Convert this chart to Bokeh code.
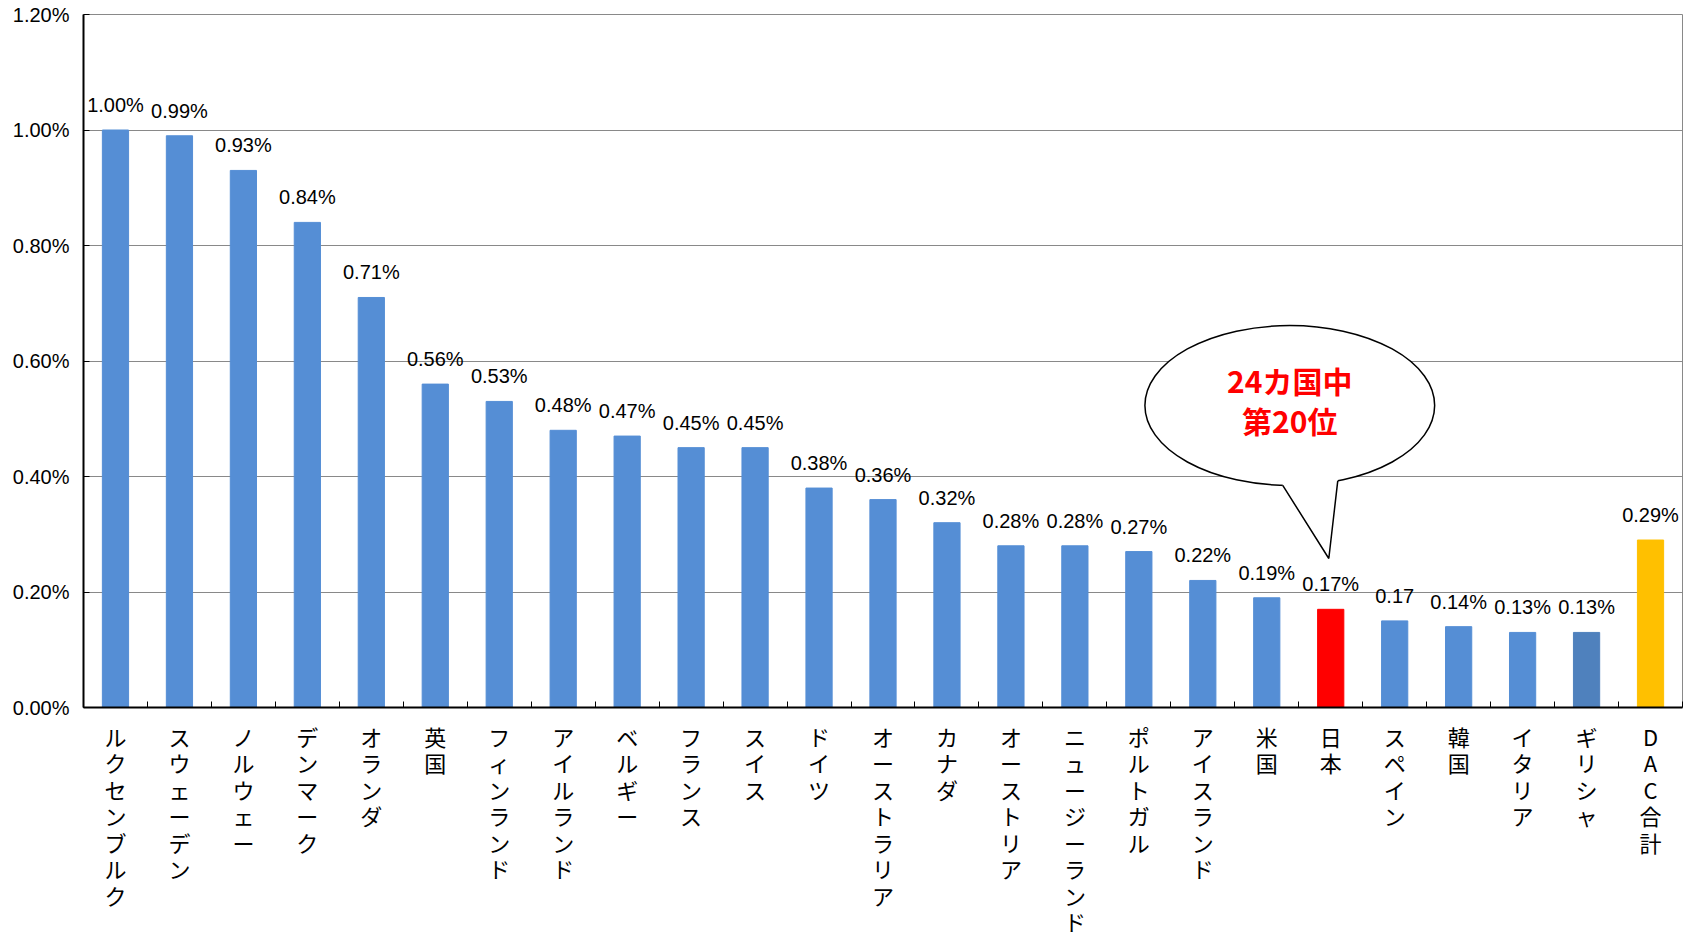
from bokeh.plotting import figure
from bokeh.models import ColumnDataSource, Range1d, FixedTicker, PrintfTickFormatter
from bokeh.core.properties import value
from bokeh.embed import file_html
from bokeh.resources import INLINE

# ---- data ----
countries = ["ルクセンブルク", "スウェーデン", "ノルウェー", "デンマーク", "オランダ", "英国",
             "フィンランド", "アイルランド", "ベルギー", "フランス", "スイス", "ドイツ",
             "オーストラリア", "カナダ", "オーストリア", "ニュージーランド", "ポルトガル",
             "アイスランド", "米国", "日本", "スペイン", "韓国", "イタリア", "ギリシャ", "DAC合計"]
values = [1.00, 0.99, 0.93, 0.84, 0.71, 0.56, 0.53, 0.48, 0.47, 0.45, 0.45, 0.38,
          0.36, 0.32, 0.28, 0.28, 0.27, 0.22, 0.19, 0.17, 0.15, 0.14, 0.13, 0.13, 0.29]
value_labels = ["1.00%", "0.99%", "0.93%", "0.84%", "0.71%", "0.56%", "0.53%", "0.48%",
                "0.47%", "0.45%", "0.45%", "0.38%", "0.36%", "0.32%", "0.28%", "0.28%",
                "0.27%", "0.22%", "0.19%", "0.17%", "0.17", "0.14%", "0.13%", "0.13%", "0.29%"]
y_ticks = [0.0, 0.2, 0.4, 0.6, 0.8, 1.0, 1.2]
bubble_lines = ["24カ国中", "第20位"]
highlight = "日本"

BLUE = "#558ED5"
colors = []
for c in countries:
    if c == highlight:
        colors.append("#FF0000")
    elif c == "DAC合計":
        colors.append("#FFC000")
    elif c == "ギリシャ":
        colors.append("#4F81BD")
    else:
        colors.append(BLUE)

n = len(countries)
xs = list(range(1, n + 1))
src = ColumnDataSource(dict(x=xs, top=values, color=colors, label=value_labels))

NUM_FONT = "Liberation Sans"
JP_FONT = "Noto Sans CJK JP"

p = figure(width=1687, height=941, output_backend="svg", toolbar_location=None,
           x_range=Range1d(0.5, n + 0.5), y_range=Range1d(0, 1.2),
           min_border_left=83, min_border_right=5, min_border_top=14, min_border_bottom=234)
p.background_fill_color = "white"
p.border_fill_color = "white"
p.outline_line_color = "#898989"
p.outline_line_width = 1

p.vbar(x="x", top="top", width=0.41, bottom=0, color="color", source=src)
p.text(x="x", y="top", text="label", source=src, text_align="center", text_baseline="middle",
       y_offset=-25, text_font=value(NUM_FONT), text_font_size="20px", text_color="black")

# axes
xa = p.xaxis[0]
xa.ticker = FixedTicker(ticks=xs, minor_ticks=[i + 0.5 for i in range(0, n + 1)])
xa.major_label_overrides = {x: "\n".join(c) for x, c in zip(xs, countries)}
xa.major_tick_line_color = None
xa.minor_tick_in = 6
xa.minor_tick_out = 0
xa.minor_tick_line_color = "black"
xa.axis_line_color = "black"
xa.axis_line_width = 2
xa.major_label_text_font = JP_FONT
xa.major_label_text_font_size = "22px"
xa.major_label_text_line_height = 0.83
xa.major_label_text_color = "black"
xa.major_label_standoff = 6

ya = p.yaxis[0]
ya.ticker = FixedTicker(ticks=y_ticks)
ya.formatter = PrintfTickFormatter(format="%.2f%%")
ya.major_tick_in = 6
ya.major_tick_out = 0
ya.minor_tick_line_color = None
ya.major_tick_line_color = "black"
ya.axis_line_color = "black"
ya.axis_line_width = 2
ya.major_label_text_font = NUM_FONT
ya.major_label_text_font_size = "20px"
ya.major_label_text_color = "black"
ya.major_label_standoff = 14

p.xgrid.grid_line_color = None
p.ygrid.grid_line_color = "#898989"
p.ygrid.grid_line_width = 1

# speech bubble anchored to the highlighted bar
ji = countries.index(highlight)
jx, jv = xs[ji], values[ji]
cx, cy = jx - 0.64, jv + 0.353
bw, bh = 4.53, 0.277
tip = (jx - 0.03, jv + 0.088)
ax_ = cx - 0.11
bx_ = cx + 0.75
ay_ = cy - (bh / 2) * (1 - (2 * (ax_ - cx) / bw) ** 2) ** 0.5
by_ = cy - (bh / 2) * (1 - (2 * (bx_ - cx) / bw) ** 2) ** 0.5

p.ellipse(x=[cx], y=[cy], width=bw, height=bh, fill_color="white", line_color="black", line_width=1.5)
p.patch(x=[ax_, tip[0], bx_, bx_, ax_], y=[ay_, tip[1], by_, by_ + 0.02, ay_ + 0.02],
        fill_color="white", line_color=None)
p.line(x=[ax_, tip[0], bx_], y=[ay_, tip[1], by_], line_color="black", line_width=1.5)
p.text(x=[cx, cx], y=[cy + 0.044, cy - 0.026], text=bubble_lines, text_align="center",
       text_baseline="middle", text_font=value(JP_FONT), text_font_size="30px",
       text_font_style="bold", text_color="#FF0000")

open("out.html", "w").write(file_html(p, INLINE))
